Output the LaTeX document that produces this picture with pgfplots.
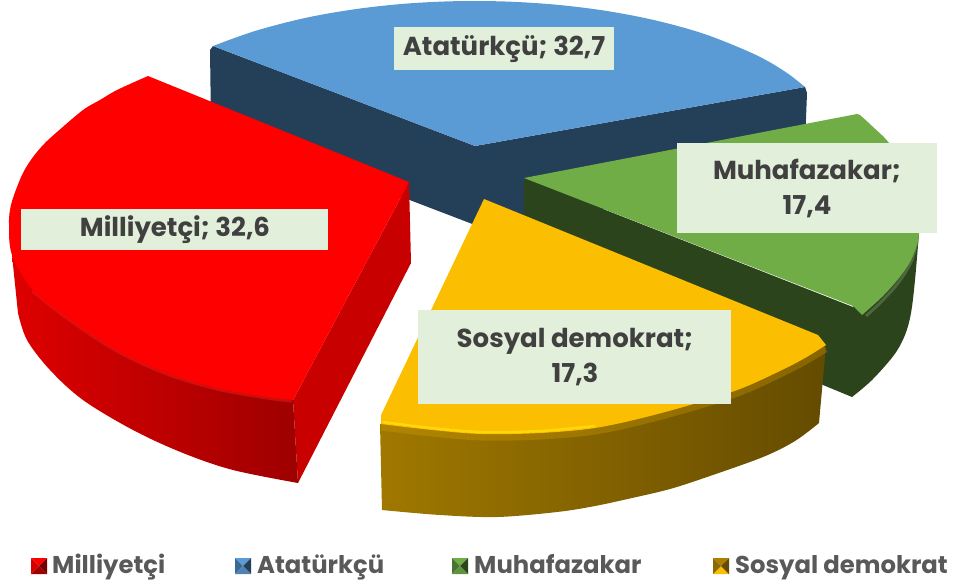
\documentclass[border=0pt]{standalone}
\usepackage{pgfplots}
\pgfplotsset{compat=1.18}
\usepackage{fontspec}
\setmainfont{Poppins}
\definecolor{lab}{HTML}{E2EFDA}
\definecolor{labt}{HTML}{404040}
\definecolor{legt}{HTML}{595959}
\definecolor{bT}{HTML}{5B9BD5}\definecolor{bS}{HTML}{243F58}\definecolor{bM}{HTML}{3A6996}\definecolor{bB}{HTML}{5082B4}
\definecolor{gT}{HTML}{70AD47}\definecolor{gS}{HTML}{2C441B}\definecolor{gM}{HTML}{4B7330}\definecolor{gB}{HTML}{5F943C}\definecolor{gH}{HTML}{8FA880}
\definecolor{yT}{HTML}{FCBE00}\definecolor{yL}{HTML}{A07800}\definecolor{yC}{HTML}{6E5200}\definecolor{yR}{HTML}{644B00}\definecolor{yH}{HTML}{FFD70A}\definecolor{yD}{HTML}{D8A400}\definecolor{yK}{HTML}{AA8000}\definecolor{yN}{HTML}{8C6900}
\definecolor{rT}{HTML}{FF0000}\definecolor{rS}{HTML}{C80000}\definecolor{rL}{HTML}{DE0000}\definecolor{rR}{HTML}{9E0000}\definecolor{rH}{HTML}{FF2323}\definecolor{rM}{HTML}{D20000}\definecolor{rD}{HTML}{780000}
\pgfplotsset{f/.style={draw=none,no markers,fill=#1}, s/.style={draw=none,no markers,fill=#1,smooth,tension=0.55}, l/.style={no markers,draw=#1,fill=none,line cap=butt,line join=round,smooth,tension=0.55}}
\begin{document}
\begin{tikzpicture}
\begin{axis}[width=957pt,height=587pt,scale only axis,hide axis,xmin=0,xmax=957,ymin=0,ymax=587,y dir=reverse,clip=false]
\path (axis cs:0,0) rectangle (axis cs:957,587);
% Atatürkçü
\addplot[f=bS] coordinates {(213,46)(475,146)(805,87)(807,93)(804,170)(524,225)(475,225)(211,124)(210,50)} -- cycle;
\addplot[s=bT] coordinates {(213,46)(255,31)(305,18)(355,9.2)(405,3.7)(455,1.2)(505,1.5)(555,4.6)(605,10.7)(655,20.3)(705,34.2)(755,54.5)(785,71.6)(805,87)} -- (axis cs:475,146) -- cycle;
% Muhafazakar
\addplot[s=gS] coordinates {(919,233)(915,280)(911,313)(905,335)(894,355)(872,380)(852,397)} -- (axis cs:823,385) -- (axis cs:524,225) -- (axis cs:524,178) -- (axis cs:853,307) -- cycle;
\addplot[l=gH,line width=3pt,opacity=.35] coordinates {(918,238)(911,262)(898,283)(881,302)(866,316)};
\addplot[s=gT] coordinates {(860,115)(872,126)(889,143)(905,170)(915,200)(919,233)(912,258)(899,278)(882,297)(862,315)} -- (axis cs:853,306) -- (axis cs:524,178) -- (axis cs:857,114) -- cycle;
% Sosyal demokrat
\addplot[draw=none,no markers,smooth,tension=0.55,left color=yL,middle color=yC,right color=yR] coordinates {(819,423)(795,441)(763,457)(707,477)(670,489)(632,498)(595,506)(557,512)(497,517)(440,515)(382,510)} -- (axis cs:380,424) -- (axis cs:826,345) -- cycle;
\addplot[l=yD,line width=9pt,opacity=.3] coordinates {(381,426)(432,432)(482,436)(540,435)(595,430)(650,418)(707,402)(745,389)(782,372)(805,360)(825,348)};
\addplot[s=yT] coordinates {(826,345)(805,358)(782,370)(745,387)(707,400)(650,416)(595,428)(540,433)(482,434)(432,430)(381,424)} -- (axis cs:381,415) -- (axis cs:484,199) -- (axis cs:818,335) -- cycle;
\addplot[l=yH,line width=2.5pt] coordinates {(383,422)(432,428)(482,432)(540,431)(595,426)};
% Milliyetçi
\addplot[f=rS] coordinates {(409,182)(411,263)(298,483)(293,400)} -- cycle;
\addplot[draw=none,no markers,smooth,tension=0.55,left color=rL,right color=rR] coordinates {(18,313)(27,340)(50,370)(83,400)(133,430)(183,453)(233,470)(298,483)} -- (axis cs:293,400) -- (axis cs:12,255) -- cycle;
\addplot[l=rH,line width=5pt,opacity=.4] coordinates {(33,290)(67,317)(117,350)(167,373)(217,388)(267,397)(292,400)};
\addplot[s=rT] coordinates {(293,400)(267,397)(217,388)(167,373)(117,350)(67,317)(33,290)(12,255)(9,223)(11,205)(17,187)(24,171)(33,157)(44,144)(57,132)(83,110)(100,100)(117,90)(148,76)} -- (axis cs:409,182) -- cycle;
% data labels
\addplot[f=lab] coordinates {(21,209)(328,209)(328,250)(21,250)} -- cycle;
\addplot[f=lab] coordinates {(394,27)(614,27)(614,70)(394,70)} -- cycle;
\addplot[f=lab] coordinates {(677,143)(937,143)(937,233)(677,233)} -- cycle;
\addplot[f=lab] coordinates {(418,310)(731,310)(731,404)(418,404)} -- cycle;
\node[text=labt,font=\fontsize{26}{35}\selectfont\bfseries] at (axis cs:175,230) {Milliyetçi; 32,6};
\node[text=labt,font=\fontsize{26}{35}\selectfont\bfseries] at (axis cs:504,49) {Atatürkçü; 32,7};
\node[text=labt,font=\fontsize{26}{35}\selectfont\bfseries,align=center] at (axis cs:807,188) {Muhafazakar;\\17,4};
\node[text=labt,font=\fontsize{26}{35}\selectfont\bfseries,align=center] at (axis cs:575,357) {Sosyal demokrat;\\17,3};
% legend keys
\addplot[f=rR] coordinates {(31,574)(39,566)(47,574)} -- cycle;
\addplot[f=rT] coordinates {(31,558)(47,558)(39,566)} -- cycle;
\addplot[f=rM] coordinates {(31,558)(39,566)(31,574)} -- cycle;
\addplot[f=rD] coordinates {(47,558)(39,566)(47,574)} -- cycle;
\addplot[f=bT] coordinates {(235,558)(251,558)(243,566)} -- cycle;
\addplot[f=bM] coordinates {(235,558)(243,566)(235,574)} -- cycle;
\addplot[f=bS] coordinates {(251,558)(243,566)(251,574)} -- cycle;
\addplot[f=bB] coordinates {(235,574)(243,566)(251,574)} -- cycle;
\addplot[f=gT] coordinates {(452,558)(468,558)(460,566)} -- cycle;
\addplot[f=gM] coordinates {(452,558)(460,566)(452,574)} -- cycle;
\addplot[f=gS] coordinates {(468,558)(460,566)(468,574)} -- cycle;
\addplot[f=gB] coordinates {(452,574)(460,566)(468,574)} -- cycle;
\addplot[f=yT] coordinates {(713,574)(721,566)(729,574)} -- cycle;
\addplot[f=yK] coordinates {(713,558)(729,558)(721,566)} -- cycle;
\addplot[f=yN] coordinates {(713,558)(721,566)(713,574)} -- cycle;
\addplot[f=yR] coordinates {(729,558)(721,566)(729,574)} -- cycle;
% legend
\node[anchor=base west,inner sep=0,text=legt,font=\fontsize{24.3}{28}\selectfont\bfseries] at (axis cs:52,573) {Milliyetçi};
\node[anchor=base west,inner sep=0,text=legt,font=\fontsize{24.3}{28}\selectfont\bfseries] at (axis cs:257,573) {Atatürkçü};
\node[anchor=base west,inner sep=0,text=legt,font=\fontsize{24.3}{28}\selectfont\bfseries] at (axis cs:474,573) {Muhafazakar};
\node[anchor=base west,inner sep=0,text=legt,font=\fontsize{24.3}{28}\selectfont\bfseries] at (axis cs:735,573) {Sosyal demokrat};
\end{axis}
\end{tikzpicture}
\end{document}
